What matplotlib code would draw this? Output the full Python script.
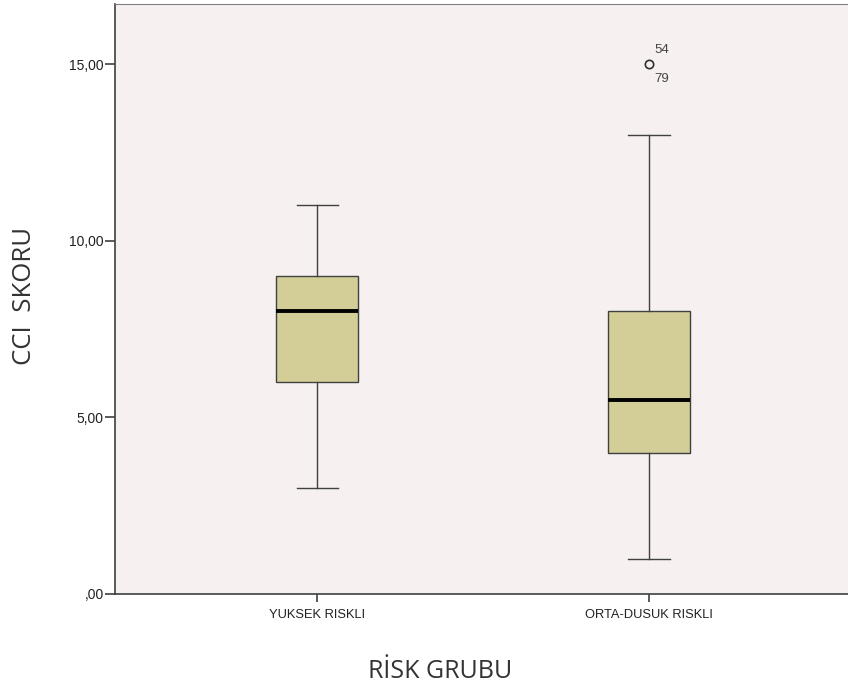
import matplotlib.pyplot as plt

categories = ['YUKSEK RISKLI', 'ORTA-DUSUK RISKLI']
q1 = [6, 4]
medians = [8, 5.5]
q3 = [9, 8]
whislo = [3, 1]
whishi = [11, 13]
fliers = [[], [15]]
flier_ids = [[], [('54', '79')]]
yticks = [0, 5, 10, 15]
ytick_labels = [',00', '5,00', '10,00', '15,00']


def main():
    fig = plt.figure(figsize=(8.48, 6.91), dpi=100)
    ax = fig.add_axes([0.1356, 0.1404, 0.8644, 0.8538])
    ax.set_facecolor('#F6F0F0')

    stats = []
    for i in range(len(categories)):
        stats.append({'label': categories[i], 'q1': q1[i], 'med': medians[i],
                      'q3': q3[i], 'whislo': whislo[i], 'whishi': whishi[i],
                      'fliers': fliers[i]})

    ax.bxp(stats, positions=[1, 2], widths=0.247, patch_artist=True,
           boxprops=dict(facecolor='#D3CE98', edgecolor='#404040', linewidth=1),
           medianprops=dict(color='black', linewidth=2.8),
           whiskerprops=dict(color='#404040', linewidth=1),
           capprops=dict(color='#404040', linewidth=1),
           capwidths=0.124,
           flierprops=dict(marker='o', markersize=6, markerfacecolor='none',
                           markeredgecolor='#303030', markeredgewidth=1.2))

    # outlier case labels (one above, one below the point)
    for i in range(len(categories)):
        for val, (top, bottom) in zip(fliers[i], flier_ids[i]):
            ax.annotate(top, (i + 1, val), xytext=(4, 10),
                        textcoords='offset points', fontsize=9.5,
                        color='#444444', ha='left', va='center',
                        family='Liberation Sans')
            ax.annotate(bottom, (i + 1, val), xytext=(4, -10.5),
                        textcoords='offset points', fontsize=9.5,
                        color='#444444', ha='left', va='center',
                        family='Liberation Sans')

    ax.set_xlim(0.39, 2.6)
    ax.set_ylim(0, 16.7)
    ax.set_yticks(yticks)
    ax.set_yticklabels(ytick_labels, family='Liberation Sans', fontsize=10)
    ax.set_xticks([1, 2])
    ax.set_xticklabels(categories, family='Liberation Sans', fontsize=9.3)
    ax.tick_params(axis='both', direction='out', width=1.2,
                   color='#404040', labelcolor='#222222')
    ax.tick_params(axis='y', length=7, pad=1)
    ax.tick_params(axis='x', length=6, pad=4.5)

    ax.spines['right'].set_visible(False)
    ax.spines['top'].set_color('#808080')
    ax.spines['left'].set_color('#404040')
    ax.spines['bottom'].set_color('#404040')
    ax.spines['left'].set_linewidth(1.2)
    ax.spines['bottom'].set_linewidth(1.2)

    # axis titles
    fig.text(25 / 848, 1 - 296 / 691, 'CCI  SKORU', family='Open Sans',
             fontsize=18.5, color='#333333', rotation=90,
             ha='center', va='center')
    fig.text(440 / 848, 1 - 678 / 691, 'RİSK GRUBU', family='Open Sans',
             fontsize=18, color='#333333', ha='center', va='baseline')

    fig.savefig('out.png', dpi=100)


if __name__ == '__main__':
    main()
